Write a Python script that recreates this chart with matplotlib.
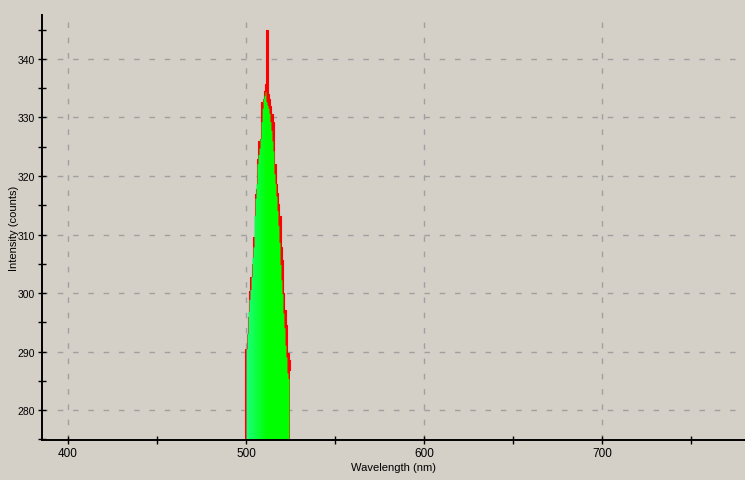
import numpy as np
import matplotlib
matplotlib.use("Agg")
import matplotlib.pyplot as plt
from matplotlib.ticker import MultipleLocator
from matplotlib.patches import Polygon

# ---- data ----
wavelength = [499.4, 500.0, 500.6, 501.1, 501.7, 502.2, 502.8, 503.4, 503.9, 504.5,
              505.1, 505.6, 506.2, 506.7, 507.3, 507.9, 508.4, 509.0, 509.6, 510.1,
              510.7, 511.2, 511.8, 512.4, 512.9, 513.5, 514.0, 514.6, 515.2, 515.7,
              516.3, 516.9, 517.4, 518.0, 518.5, 519.1, 519.7, 520.2, 520.8, 521.3,
              521.9, 522.5, 523.0, 523.6, 524.2, 524.7]
counts_max = [276.2, 290.4, 293.0, 295.9, 298.1, 300.3, 302.7, 305.0, 307.5, 309.6,
              316.9, 317.8, 320.3, 322.9, 326.0, 326.3, 328.0, 332.6, 333.2, 334.5,
              335.7, 340.5, 344.9, 334.0, 333.2, 333.0, 331.9, 330.6, 329.2, 325.9,
              322.0, 318.6, 317.1, 316.3, 315.2, 313.2, 307.8, 305.6, 303.3, 300.0,
              297.1, 294.6, 293.0, 289.8, 288.5, 286.8]
counts_min = [274.0, 274.0, 290.4, 293.0, 296.8, 298.8, 300.5, 302.7, 306.0, 307.8,
              313.2, 316.1, 318.6, 322.0, 323.6, 324.7, 326.3, 329.2, 331.5, 333.2,
              333.7, 334.3, 332.6, 332.0, 331.5, 330.6, 329.2, 327.7, 325.9, 324.2,
              320.3, 318.6, 316.5, 314.0, 311.5, 308.6, 304.8, 302.2, 299.8, 296.5,
              294.0, 291.0, 289.0, 286.3, 285.3, 274.0]

x_ticks = [400, 500, 600, 700]
y_ticks = [280, 290, 300, 310, 320, 330, 340]
x_label = "Wavelength (nm)"
y_label = "Intensity (counts)"

BG = "#d4d0c8"
plt.rcParams["lines.scale_dashes"] = False
plt.rcParams["font.family"] = ["Liberation Sans", "DejaVu Sans"]

fig = plt.figure(figsize=(7.45, 4.81), dpi=100, facecolor=BG)
ax = fig.add_axes([42 / 745, 40 / 481, 703 / 745, 425 / 481], facecolor=BG)

ax.set_xlim(385.4, 780.3)
ax.set_ylim(274.9, 347.5)

wl = np.array(wavelength)
cmax = np.array(counts_max)
cmin = np.array(counts_min)
base = 274.9

# red envelope (step)
ax.fill_between(wl, base, cmax, step="mid", color="#ff0000", lw=0, zorder=3)
ax.step(wl, cmax, where="mid", color="#ff0000", lw=0.8, zorder=3)

# green fill with horizontal gradient, clipped to the lower curve
step_w = np.diff(wl).mean()
xs, ys = [], []
for w, v in zip(wl, cmin):
    xs += [w - step_w / 2, w + step_w / 2]
    ys += [v, v]
poly_pts = [(xs[0], base)] + list(zip(xs, ys)) + [(xs[-1], base)]
poly = Polygon(poly_pts, closed=True, facecolor="none", edgecolor="none")
ax.add_patch(poly)
n = 200
t = np.linspace(0, 1, n)
r = np.clip(0.12 - 0.25 * t, 0, 1)
g = np.ones(n)
b = np.clip(0.55 - 1.1 * t, 0, 1)
grad = np.stack([r, g, b], axis=-1)[None, :, :]
im = ax.imshow(grad, extent=[xs[0], xs[-1], base, max(ys)], aspect="auto",
               interpolation="bilinear", zorder=4)
im.set_clip_path(poly)

# grid
ax.set_xticks(x_ticks)
ax.set_yticks(y_ticks)
ax.xaxis.set_minor_locator(MultipleLocator(50))
ax.yaxis.set_minor_locator(MultipleLocator(5))
ax.grid(True, which="major", color="#a0a0a0", lw=1.0, linestyle=(0, (4.0, 7.0)), zorder=1)

for s in ["top", "right"]:
    ax.spines[s].set_visible(False)
for s in ["left", "bottom"]:
    ax.spines[s].set_linewidth(1.4)
    ax.spines[s].set_color("black")
    ax.spines[s].set_zorder(6)

ax.tick_params(which="both", direction="inout", length=6, width=1, colors="black",
               labelsize=7.5, pad=2)
ax.tick_params(axis="x", labelsize=8.5)

ax.set_xlabel(x_label, fontsize=8, labelpad=2)
ax.set_ylabel(y_label, fontsize=8)
ax.yaxis.set_label_coords(-23 / 703, 0.5)

fig.savefig("out.png", dpi=100, facecolor=BG)
